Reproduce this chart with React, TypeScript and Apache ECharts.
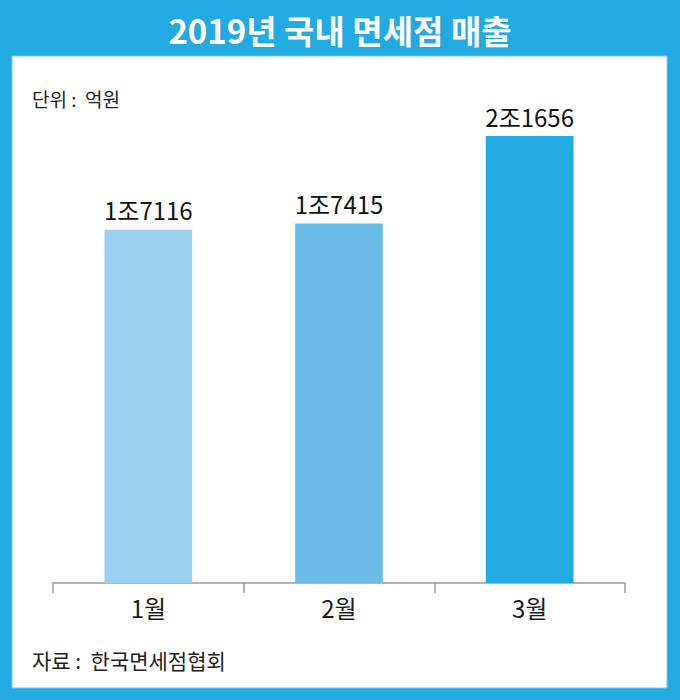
import React, { useEffect, useRef } from "react";
import * as echarts from "echarts";

const categories = ["1월", "2월", "3월"];
const sales = [17116, 17415, 21656]; // 억원
const barColors = ["#9cd0f1", "#6bbce9", "#22aae3"];
const titleText = "2019년 국내 면세점 매출";
const unitText = "단위 :  억원";
const sourceText = "자료 :  한국면세점협회";

const FONT = "'Noto Sans CJK KR', 'Noto Sans', sans-serif";

function fmt(v: number) {
  const jo = Math.floor(v / 10000);
  const rest = v % 10000;
  return jo > 0 ? `${jo}조${rest}` : `${rest}`;
}

export default function App() {
  const ref = useRef<HTMLDivElement>(null);
  useEffect(() => {
    document.body.style.margin = "0";
    const chart = echarts.init(ref.current!, null, { renderer: "svg" });
    chart.setOption({
      animation: false,
      backgroundColor: "#ffffff",
      graphic: [
        { type: "rect", shape: { x: 0, y: 0, width: 680, height: 700 }, style: { fill: "#22aae3" }, z: -10 },
        { type: "rect", shape: { x: 12, y: 56, width: 655, height: 632 }, style: { fill: "#ffffff", stroke: "#7fcdf0", lineWidth: 1 }, z: -9 },
        {
          type: "text",
          x: 340,
          y: 30,
          style: { text: titleText, fill: "#ffffff", font: `bold 33px ${FONT}`, align: "center", verticalAlign: "middle" },
        },
        {
          type: "text",
          x: 32,
          y: 98,
          style: { text: unitText, fill: "#222", font: `19px ${FONT}`, align: "left", verticalAlign: "middle" },
        },
        {
          type: "text",
          x: 32,
          y: 660,
          style: { text: sourceText, fill: "#222", font: `21px ${FONT}`, align: "left", verticalAlign: "middle" },
        },
      ],
      grid: { left: 53, right: 55, top: 67, bottom: 117 },
      xAxis: {
        type: "category",
        data: categories,
        axisLine: { lineStyle: { color: "#9a9a9a", width: 1.5 } },
        axisTick: { show: true, length: 10, lineStyle: { color: "#9a9a9a", width: 1.5 } },
        axisLabel: { color: "#1a1a1a", fontSize: 24, fontFamily: FONT, margin: 12 },
      },
      yAxis: {
        type: "value",
        min: 0,
        max: 25000,
        show: false,
        splitLine: { show: false },
      },
      series: [
        {
          type: "bar",
          barWidth: "46%",
          data: sales.map((v, i) => ({ value: v, itemStyle: { color: barColors[i] } })),
          label: {
            show: true,
            position: "top",
            distance: 8,
            color: "#111",
            fontSize: 24,
            fontFamily: FONT,
            formatter: (p: any) => fmt(p.value),
          },
        },
      ],
    });
    return () => chart.dispose();
  }, []);
  return <div ref={ref} style={{ width: 680, height: 700 }} />;
}
